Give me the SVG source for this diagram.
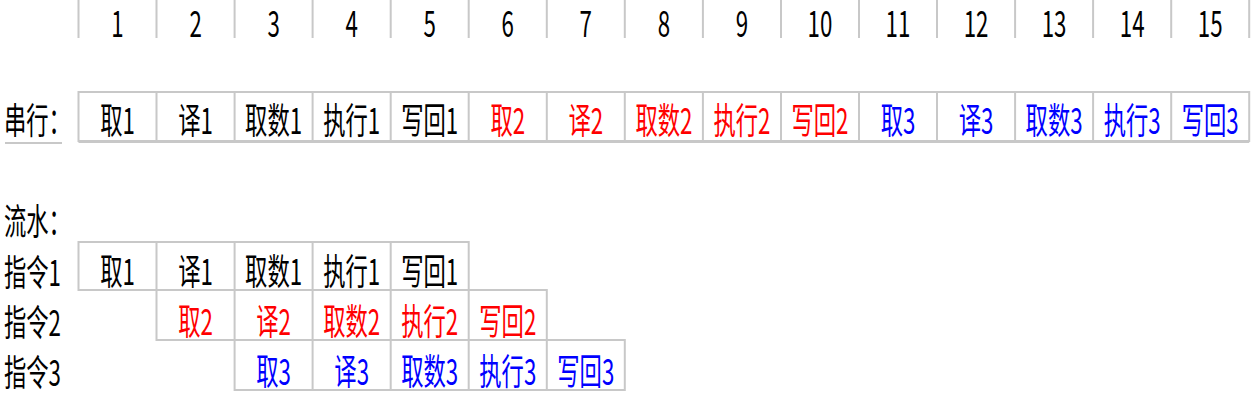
<svg xmlns="http://www.w3.org/2000/svg" width="1255" height="405" viewBox="0 0 1255 405">
<style>
.t{font-family:"Noto Sans CJK SC","Liberation Sans",sans-serif;font-size:36px;text-anchor:middle}
.l{font-family:"Noto Sans CJK SC","Liberation Sans",sans-serif;font-size:36px;text-anchor:start;fill:#000}
.k{fill:#000}.r{fill:#ff0000}.b{fill:#0000ff}
.g{stroke:#c8c8c8;stroke-width:2;fill:none}
.c{stroke:#c8c8c8;stroke-width:2;fill:#fff}
</style>
<rect width="1255" height="405" fill="#fff"/>
<g id="header">
<path class="g" d="M78.5 0V38M156.5 0V38M234.6 0V38M312.6 0V38M390.7 0V38M468.7 0V38M546.8 0V38M624.8 0V38M702.9 0V38M781 0V38M859 0V38M937 0V38M1015.1 0V38M1093.1 0V38M1171.2 0V38M1249.2 0V38"/>
<g class="t k">
<text transform="translate(117.5,37) scale(0.62,1)">1</text>
<text transform="translate(195.6,37) scale(0.62,1)">2</text>
<text transform="translate(273.6,37) scale(0.62,1)">3</text>
<text transform="translate(351.7,37) scale(0.62,1)">4</text>
<text transform="translate(429.7,37) scale(0.62,1)">5</text>
<text transform="translate(507.8,37) scale(0.62,1)">6</text>
<text transform="translate(585.8,37) scale(0.62,1)">7</text>
<text transform="translate(663.9,37) scale(0.62,1)">8</text>
<text transform="translate(741.9,37) scale(0.62,1)">9</text>
<text transform="translate(820,37) scale(0.62,1)">10</text>
<text transform="translate(898,37) scale(0.62,1)">11</text>
<text transform="translate(976.1,37) scale(0.62,1)">12</text>
<text transform="translate(1054.1,37) scale(0.62,1)">13</text>
<text transform="translate(1132.2,37) scale(0.62,1)">14</text>
<text transform="translate(1210.2,37) scale(0.62,1)">15</text>
</g>
</g>
<g id="serial">
<text class="l" transform="translate(4,134) scale(0.62,1)">串行：</text>
<path d="M5 143H62" stroke="#c8c8c8" stroke-width="2"/>
<rect class="c" x="78.5" y="92" width="1170.7" height="49"/>
<path d="M78.5 141.5H1249.2" stroke="#c8c8c8" stroke-width="3"/>
<path class="g" d="M156.5 92V141M234.6 92V141M312.6 92V141M390.7 92V141M468.7 92V141M546.8 92V141M624.8 92V141M702.9 92V141M781 92V141M859 92V141M937 92V141M1015.1 92V141M1093.1 92V141M1171.2 92V141"/>
<g class="t">
<text class="k" transform="translate(117.5,134) scale(0.62,1)">取1</text>
<text class="k" transform="translate(195.6,134) scale(0.62,1)">译1</text>
<text class="k" transform="translate(273.6,134) scale(0.62,1)">取数1</text>
<text class="k" transform="translate(351.7,134) scale(0.62,1)">执行1</text>
<text class="k" transform="translate(429.7,134) scale(0.62,1)">写回1</text>
<text class="r" transform="translate(507.8,134) scale(0.62,1)">取2</text>
<text class="r" transform="translate(585.8,134) scale(0.62,1)">译2</text>
<text class="r" transform="translate(663.9,134) scale(0.62,1)">取数2</text>
<text class="r" transform="translate(741.9,134) scale(0.62,1)">执行2</text>
<text class="r" transform="translate(820,134) scale(0.62,1)">写回2</text>
<text class="b" transform="translate(898,134) scale(0.62,1)">取3</text>
<text class="b" transform="translate(976.1,134) scale(0.62,1)">译3</text>
<text class="b" transform="translate(1054.1,134) scale(0.62,1)">取数3</text>
<text class="b" transform="translate(1132.2,134) scale(0.62,1)">执行3</text>
<text class="b" transform="translate(1210.2,134) scale(0.62,1)">写回3</text>
</g>
</g>
<g id="pipeline-title">
<text class="l" transform="translate(4,235) scale(0.62,1)">流水：</text>
</g>
<g id="instr1">
<text class="l" transform="translate(4,286) scale(0.62,1)">指令1</text>
<rect class="c" x="78.5" y="242" width="390.2" height="48"/>
<path class="g" d="M156.5 242V290M234.6 242V290M312.6 242V290M390.7 242V290"/>
<g class="t k">
<text transform="translate(117.5,285) scale(0.62,1)">取1</text>
<text transform="translate(195.6,285) scale(0.62,1)">译1</text>
<text transform="translate(273.6,285) scale(0.62,1)">取数1</text>
<text transform="translate(351.7,285) scale(0.62,1)">执行1</text>
<text transform="translate(429.7,285) scale(0.62,1)">写回1</text>
</g>
</g>
<g id="instr2">
<text class="l" transform="translate(4,336) scale(0.62,1)">指令2</text>
<rect class="g" x="156.5" y="290" width="390.3" height="50"/>
<path class="g" d="M234.6 290V340M312.6 290V340M390.7 290V340M468.7 290V340"/>
<g class="t r">
<text transform="translate(195.6,335) scale(0.62,1)">取2</text>
<text transform="translate(273.6,335) scale(0.62,1)">译2</text>
<text transform="translate(351.7,335) scale(0.62,1)">取数2</text>
<text transform="translate(429.7,335) scale(0.62,1)">执行2</text>
<text transform="translate(507.8,335) scale(0.62,1)">写回2</text>
</g>
</g>
<g id="instr3">
<text class="l" transform="translate(4,386) scale(0.62,1)">指令3</text>
<rect class="g" x="234.6" y="340" width="390.2" height="50"/>
<path class="g" d="M312.6 340V390M390.7 340V390M468.7 340V390M546.8 340V390"/>
<g class="t b">
<text transform="translate(273.6,385) scale(0.62,1)">取3</text>
<text transform="translate(351.7,385) scale(0.62,1)">译3</text>
<text transform="translate(429.7,385) scale(0.62,1)">取数3</text>
<text transform="translate(507.8,385) scale(0.62,1)">执行3</text>
<text transform="translate(585.8,385) scale(0.62,1)">写回3</text>
</g>
</g>
</svg>
